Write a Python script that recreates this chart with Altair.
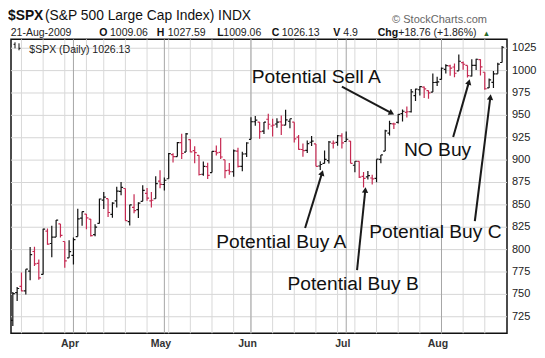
import math
import datetime as dt
import altair as alt
import pandas as pd

# ---------------- data (S&P 500 daily, 2009) ----------------
dates = [
    "03-12", "03-13", "03-16", "03-17", "03-18", "03-19", "03-20", "03-23", "03-24", "03-25", "03-26", "03-27", "03-30", "03-31",
    "04-01", "04-02", "04-03", "04-06", "04-07", "04-08", "04-09", "04-13", "04-14", "04-15", "04-16", "04-17", "04-20", "04-21",
    "04-22", "04-23", "04-24", "04-27", "04-28", "04-29", "04-30",
    "05-01", "05-04", "05-05", "05-06", "05-07", "05-08", "05-11", "05-12", "05-13", "05-14", "05-15", "05-18", "05-19", "05-20",
    "05-21", "05-22", "05-26", "05-27", "05-28", "05-29",
    "06-01", "06-02", "06-03", "06-04", "06-05", "06-08", "06-09", "06-10", "06-11", "06-12", "06-15", "06-16", "06-17", "06-18",
    "06-19", "06-22", "06-23", "06-24", "06-25", "06-26", "06-29", "06-30",
    "07-01", "07-02", "07-06", "07-07", "07-08", "07-09", "07-10", "07-13", "07-14", "07-15", "07-16", "07-17", "07-20", "07-21",
    "07-22", "07-23", "07-24", "07-27", "07-28", "07-29", "07-30", "07-31",
    "08-03", "08-04", "08-05", "08-06", "08-07", "08-10", "08-11", "08-12", "08-13", "08-14", "08-17", "08-18", "08-19", "08-20",
    "08-21",
]
opens = [
    720.89, 751.97, 758.84, 753.88, 776.01, 797.92, 784.58, 772.31, 820.60, 806.81, 814.06, 828.68, 809.07, 790.88,
    793.59, 814.53, 835.13, 839.75, 834.12, 816.76, 829.29, 855.33, 856.88, 839.44, 854.54, 865.18, 868.27, 831.25,
    847.26, 844.62, 853.91, 862.82, 854.48, 856.85, 876.59,
    872.74, 879.21, 906.10, 903.95, 919.58, 909.03, 922.99, 910.52, 905.40, 884.24, 892.76, 886.07, 909.67, 908.62,
    900.42, 888.68, 887.00, 909.95, 892.96, 907.02,
    923.26, 942.87, 942.51, 932.49, 945.67, 938.12, 940.35, 942.73, 939.04, 943.44, 942.45, 925.60, 911.89, 910.86,
    919.96, 918.13, 893.46, 896.31, 899.45, 918.84, 919.86, 927.15,
    920.82, 921.24, 894.27, 898.60, 881.90, 881.28, 880.03, 879.57, 900.77, 910.15, 930.17, 940.56, 942.07, 951.97,
    953.40, 954.07, 972.16, 978.63, 981.48, 977.66, 976.01, 986.80,
    990.22, 1001.41, 1005.41, 1004.06, 999.83, 1008.89, 1005.77, 994.00, 1005.86, 1012.23, 998.18, 980.62, 986.88, 996.41,
    1009.06,
]
highs = [
    752.63, 758.29, 774.53, 778.12, 803.04, 803.24, 788.91, 823.37, 823.65, 826.78, 832.98, 828.68, 809.07, 810.48,
    813.62, 845.61, 842.50, 839.75, 834.12, 828.42, 856.91, 864.31, 856.88, 852.93, 870.35, 875.63, 868.27, 850.09,
    861.78, 852.87, 871.80, 868.83, 864.48, 882.06, 888.70,
    880.48, 907.85, 907.70, 920.28, 929.58, 930.17, 922.99, 915.57, 905.40, 898.36, 896.97, 910.00, 916.39, 924.60,
    900.42, 896.65, 911.76, 913.84, 909.45, 920.02,
    947.77, 949.38, 942.51, 942.47, 951.69, 946.33, 946.92, 949.77, 956.23, 946.30, 942.45, 928.00, 918.44, 921.93,
    927.09, 918.13, 898.69, 910.85, 921.42, 922.00, 927.99, 930.01,
    931.92, 921.24, 898.72, 898.60, 886.80, 887.86, 883.57, 901.05, 905.84, 933.95, 943.96, 941.89, 951.62, 956.53,
    959.83, 979.42, 979.79, 982.49, 982.35, 977.76, 996.68, 993.18,
    1003.61, 1007.12, 1006.64, 1008.00, 1018.00, 1010.12, 1005.77, 1012.78, 1013.14, 1012.60, 998.18, 991.20, 999.61, 1008.92,
    1027.59,
]
lows = [
    714.76, 742.46, 753.37, 749.93, 765.64, 781.82, 766.20, 772.31, 805.48, 791.37, 814.06, 813.43, 779.81, 790.88,
    783.32, 814.53, 826.70, 822.79, 814.53, 814.84, 829.29, 845.35, 836.31, 835.58, 847.04, 860.87, 832.39, 826.83,
    840.57, 835.45, 853.91, 854.65, 847.12, 856.85, 868.51,
    866.10, 879.21, 897.34, 903.95, 901.36, 909.03, 908.68, 896.46, 882.80, 882.52, 878.94, 886.07, 905.22, 901.37,
    879.61, 883.75, 881.46, 891.87, 887.60, 903.56,
    923.26, 938.46, 923.85, 929.32, 934.13, 926.44, 936.15, 927.97, 939.04, 935.66, 919.65, 911.60, 903.78, 907.94,
    915.80, 893.04, 888.86, 896.31, 896.27, 913.03, 916.18, 912.86,
    920.82, 896.42, 886.36, 879.93, 869.32, 878.45, 872.81, 875.32, 896.50, 910.15, 927.45, 934.65, 940.99, 943.22,
    947.75, 953.27, 965.95, 972.29, 969.35, 968.65, 976.01, 982.85,
    990.22, 996.68, 994.31, 992.49, 999.83, 1000.99, 992.40, 993.36, 1000.82, 994.60, 978.51, 980.62, 980.62, 996.39,
    1009.06,
]
closes = [
    750.74, 756.55, 753.89, 778.12, 794.35, 784.04, 768.54, 822.92, 806.12, 813.88, 832.86, 815.94, 787.53, 797.87,
    811.08, 834.38, 842.50, 835.48, 815.55, 825.16, 856.56, 858.73, 841.50, 852.06, 865.30, 869.60, 832.39, 850.08,
    843.55, 851.92, 866.23, 857.51, 855.16, 873.64, 872.81,
    877.52, 907.24, 903.80, 919.53, 907.39, 929.23, 909.24, 908.35, 883.92, 893.07, 882.88, 909.71, 908.13, 903.47,
    888.33, 887.00, 910.33, 893.06, 906.83, 919.14,
    942.87, 944.74, 931.76, 942.46, 940.09, 939.14, 942.43, 939.15, 944.89, 946.21, 923.72, 911.97, 910.71, 918.37,
    921.23, 893.04, 895.10, 900.94, 920.26, 918.90, 927.23, 919.32,
    923.33, 896.42, 898.72, 881.03, 879.56, 882.68, 879.13, 901.05, 905.84, 932.68, 940.74, 940.38, 951.13, 954.58,
    954.07, 976.29, 979.26, 982.18, 979.62, 975.15, 986.75, 987.48,
    1002.63, 1005.65, 1002.72, 997.08, 1010.48, 1007.10, 994.35, 1005.81, 1012.73, 1004.09, 979.73, 989.67, 996.46, 1007.37,
    1026.13,
]
prev_close_first = 721.36  # close of 11-Mar-2009

month_names = ["Apr", "May", "Jun", "Jul", "Aug"]
y_ticks = [725, 750, 775, 800, 825, 850, 875, 900, 925, 950, 975, 1000, 1025]

ann_labels = ["Potential Sell A", "Potential Buy A", "Potential Buy B", "NO Buy", "Potential Buy C"]
ann_text_x = [70.1, 62.0, 78.6, 98.1, 97.6]
ann_text_y = [992.8, 808.8, 761.5, 911.2, 820.0]
ann_tail_x = [76.0, 67.5, 79.5, 101.7, 106.7]
ann_tail_y = [982.0, 824.1, 777.2, 925.8, 831.7]
ann_tip_x = [88.3, 71.7, 81.5, 105.6, 110.4]
ann_tip_y = [950.4, 890.0, 871.0, 991.7, 974.9]

# ---------------- layout / style ----------------
FONT = "Liberation Sans"
BLACK = "#111111"
RED = "#c62a52"
W, H = 496, 294
X_DOM = [-0.42, 114.13]
Y_DOM = [706.5, 1035.0]
PX_I = W / (X_DOM[1] - X_DOM[0])
PX_V = H / (Y_DOM[1] - Y_DOM[0])

XS = alt.Scale(domain=X_DOM, nice=False, zero=False)
YS = alt.Scale(domain=Y_DOM, nice=False, zero=False)

d = [dt.date(2009, int(s[:2]), int(s[3:])) for s in dates]
df = pd.DataFrame({"date": dates, "open": opens, "high": highs, "low": lows, "close": closes})
df["idx"] = range(len(df))
prev = [prev_close_first] + closes[:-1]
df["dir"] = ["up" if c >= p else "down" for c, p in zip(closes, prev)]
df["xo"] = df["idx"] - 0.47
df["xc"] = df["idx"] + 0.47

week_starts = [i for i in range(1, len(d)) if d[i].isocalendar()[1] != d[i - 1].isocalendar()[1]]
month_starts = [i for i in range(1, len(d)) if d[i].month != d[i - 1].month]
wk = pd.DataFrame({"i": week_starts})
mo = pd.DataFrame({"i": month_starts, "m": month_names})
yt = pd.DataFrame({"v": y_ticks, "t": [str(v) for v in y_ticks]})


def X(field):
    return alt.X(field, scale=XS, axis=None)


def Y(field):
    return alt.Y(field, scale=YS, axis=None)


color = alt.Color("dir:N", scale=alt.Scale(domain=["up", "down"], range=[BLACK, RED]), legend=None)

y_grid = alt.Chart(yt).mark_rule(color="#d6d6d6", strokeWidth=1).encode(y=Y("v:Q"))
week_rules = alt.Chart(wk).mark_rule(color="#d9d9d9", strokeWidth=1).encode(x=X("i:Q"))
month_rules = alt.Chart(mo).mark_rule(color="#a6a6a6", strokeWidth=1).encode(x=X("i:Q"))

y_labels = alt.Chart(yt).mark_text(font=FONT, fontSize=11, color="#222", align="left", baseline="middle").encode(
    x=alt.value(W + 5), y=Y("v:Q"), text="t:N"
)
x_labels = alt.Chart(mo).mark_text(font=FONT, fontSize=10.5, fontWeight="bold", color="#333", align="center",
                                   baseline="alphabetic", dx=-3.5).encode(
    x=X("i:Q"), y=alt.value(H + 14.0), text="m:N"
)

bars = alt.Chart(df).mark_rule(strokeWidth=1.2, clip=True).encode(
    x=X("idx:Q"), y=Y("low:Q"), y2="high:Q", color=color,
)
open_ticks = alt.Chart(df).mark_rule(strokeWidth=1.2, clip=True).encode(
    x=X("xo:Q"), x2="idx:Q", y=Y("open:Q"), color=color,
)
close_ticks = alt.Chart(df).mark_rule(strokeWidth=1.2, clip=True).encode(
    x=X("idx:Q"), x2="xc:Q", y=Y("close:Q"), color=color,
)

# annotations
rows = []
for lab, tx, ty, ax, ay, bx, by in zip(ann_labels, ann_text_x, ann_text_y, ann_tail_x, ann_tail_y, ann_tip_x, ann_tip_y):
    dxp = (bx - ax) * PX_I
    dyp = -(by - ay) * PX_V
    n = math.hypot(dxp, dyp)
    ang = math.degrees(math.atan2(dxp, -dyp)) % 360
    back = 4.0
    hx = bx - back * dxp / n / PX_I
    hy = by + back * dyp / n / PX_V
    rows.append({"label": lab, "tx": tx, "ty": ty, "ax": ax, "ay": ay, "hx": hx, "hy": hy, "ang": ang})
ann = pd.DataFrame(rows)

arrow_lines = alt.Chart(ann).mark_rule(strokeWidth=2, color="#1a1a1a").encode(
    x=X("ax:Q"), y=Y("ay:Q"), x2="hx:Q", y2="hy:Q",
)
arrow_heads = alt.Chart(ann).mark_point(shape="triangle-up", filled=True, size=40, color="#1a1a1a", opacity=1).encode(
    x=X("hx:Q"), y=Y("hy:Q"), angle=alt.Angle("ang:Q", scale=None),
)
ann_text = alt.Chart(ann).mark_text(fontSize=19.2, font=FONT, color="#111", align="center", baseline="middle").encode(
    x=X("tx:Q"), y=Y("ty:Q"), text="label:N",
)

# header texts (pixel positions relative to the plot area)
header_items = [
    ("$SPX", -3, -19.3, 13.8, "bold", "#111", "left"),
    ("(S&P 500 Large Cap Index) INDX", 34, -19.3, 13.8, "normal", "#111", "left"),
    ("\u00a9 StockCharts.com", 476, -16.8, 11, "normal", "#666", "right"),
    ("21-Aug-2009", -0.3, -3.0, 10.5, "normal", "#222", "left"),
    ("O", 88.3, -3.0, 10.5, "bold", "#111", "left"),
    ("1009.06", 99, -3.0, 10.5, "normal", "#222", "left"),
    ("H", 145.7, -3.0, 10.5, "bold", "#111", "left"),
    ("1027.59", 156.7, -3.0, 10.5, "normal", "#222", "left"),
    ("L", 206.3, -3.0, 10.5, "bold", "#111", "left"),
    ("1009.06", 212.3, -3.0, 10.5, "normal", "#222", "left"),
    ("C", 260.7, -3.0, 10.5, "bold", "#111", "left"),
    ("1026.13", 270.7, -3.0, 10.5, "normal", "#222", "left"),
    ("V", 322.3, -3.0, 10.5, "bold", "#111", "left"),
    ("4.9", 332.3, -3.0, 10.5, "normal", "#222", "left"),
    ("Chg", 366.7, -3.0, 10.5, "bold", "#111", "left"),
    ("+18.76 (+1.86%)", 387.3, -3.0, 10.5, "normal", "#222", "left"),
    ("\u25b2", 471.7, -3.5, 7.5, "normal", "#2a6a2a", "left"),
    ("$SPX (Daily) 1026.13", 18.3, 13.2, 10.5, "normal", "#222", "left"),
]
dummy = pd.DataFrame({"k": [0]})
header_layers = []
for txt, x, y, fs, fw, col, al in header_items:
    header_layers.append(
        alt.Chart(dummy).mark_text(text=txt, fontSize=fs, fontWeight=fw, color=col, align=al,
                                   baseline="alphabetic", font=FONT).encode(x=alt.value(x), y=alt.value(y))
    )

# small legend glyph
glyph = [
    alt.Chart(dummy).mark_rule(color="#111", strokeWidth=1).encode(x=alt.value(4), y=alt.value(3), y2=alt.value(9)),
    alt.Chart(dummy).mark_rule(color="#111", strokeWidth=1).encode(x=alt.value(2.5), x2=alt.value(4), y=alt.value(5)),
    alt.Chart(dummy).mark_rule(color="#111", strokeWidth=1).encode(x=alt.value(8), y=alt.value(4), y2=alt.value(11)),
    alt.Chart(dummy).mark_rule(color="#111", strokeWidth=1).encode(x=alt.value(8), x2=alt.value(9.5), y=alt.value(9)),
]

chart = alt.layer(
    y_grid, week_rules, month_rules, y_labels, x_labels, bars, open_ticks, close_ticks,
    arrow_lines, arrow_heads, ann_text, *glyph, *header_layers,
).properties(
    width=W, height=H,
    autosize=alt.AutoSizeParams(type="none"),
    padding={"left": 3, "top": 31.3, "right": 30, "bottom": 16.7},
    background="white",
).configure_view(
    stroke="#111", strokeWidth=1.5,
)

chart.save("out.html", embed_options={"renderer": "svg", "actions": False})
